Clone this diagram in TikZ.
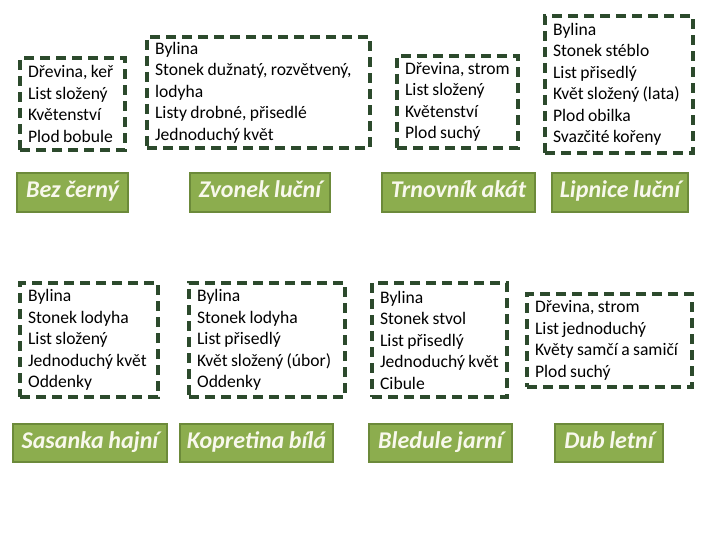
\documentclass[tikz,border=0pt]{standalone}
\usepackage{fontspec}
\setmainfont{Carlito}[WordSpace=0.85]
\definecolor{dashgreen}{HTML}{2C4A2C}
\definecolor{labfill}{HTML}{8CAD4E}
\definecolor{labedge}{HTML}{6C8A3A}
\definecolor{labtext}{HTML}{F8F8EC}
\tikzset{
  infobox/.style={draw=dashgreen, line width=3.2pt, dash pattern=on 10pt off 6pt,
    inner sep=0pt, anchor=center},
  infotext/.style={align=left, inner sep=0pt, anchor=west,
    font=\fontsize{17.6}{21.5}\selectfont},
  plantlabel/.style={draw=labedge, fill=labfill, line width=2.6pt, text=labtext,
    inner sep=0pt, anchor=center, text height=15pt, text depth=4pt,
    font=\fontsize{24}{26}\selectfont\bfseries\itshape}
}
\newcommand{\infob}[6]{% name, x1,y1,x2,y2, text
  \node[infobox, minimum width={#4-#2}, minimum height={#5-#3}]
    (#1) at ({(#2+#4)/2},{(#3+#5)/2}) {};
  \node[infotext] (#1t) at ([xshift=9.5pt]#1.west) {#6};}
\newcommand{\plab}[6]{%
  \node[plantlabel, minimum width={#4-#2}, minimum height={#5-#3}]
    (#1) at ({(#2+#4)/2},{(#3+#5)/2}) {#6};}
\begin{document}
\begin{tikzpicture}[x=1pt,y=-1pt]
\useasboundingbox (0,0) rectangle (720,540);
\infob{b1}{20}{58}{125}{150}{Dřevina, keř\\List složený\\Květenství\\Plod bobule}
\infob{b2}{147}{37}{370}{148}{Bylina\\Stonek dužnatý, rozvětvený,\\lodyha\\Listy drobné, přisedlé\\Jednoduchý květ}
\infob{b3}{397}{56}{518}{148}{Dřevina, strom\\List složený\\Květenství\\Plod suchý}
\infob{b4}{545}{16}{693}{153}{Bylina\\Stonek stéblo\\List přisedlý\\Květ složený (lata)\\Plod obilka\\Svazčité kořeny}
\infob{b5}{20}{283}{158}{397}{Bylina\\Stonek lodyha\\List složený\\Jednoduchý květ\\Oddenky}
\infob{b6}{189}{283}{345}{397}{Bylina\\Stonek lodyha\\List přisedlý\\Květ složený (úbor)\\Oddenky}
\infob{b7}{372}{283}{507}{397}{Bylina\\Stonek stvol\\List přisedlý\\Jednoduchý květ\\Cibule}
\infob{b8}{527}{294}{692}{387}{Dřevina, strom\\List jednoduchý\\Květy samčí a samičí\\Plod suchý}
\plab{l1}{17}{173}{128}{212}{Bez černý}
\plab{l2}{190}{173}{330}{212}{Zvonek luční}
\plab{l3}{382}{173}{535}{212}{Trnovník akát}
\plab{l4}{552}{173}{688}{212}{Lipnice luční}
\plab{l5}{13}{424}{167}{462}{Sasanka hajní}
\plab{l6}{180}{424}{333}{462}{Kopretina bílá}
\plab{l7}{369}{424}{512}{462}{Bledule jarní}
\plab{l8}{555}{424}{663}{462}{Dub letní}
\end{tikzpicture}
\end{document}
